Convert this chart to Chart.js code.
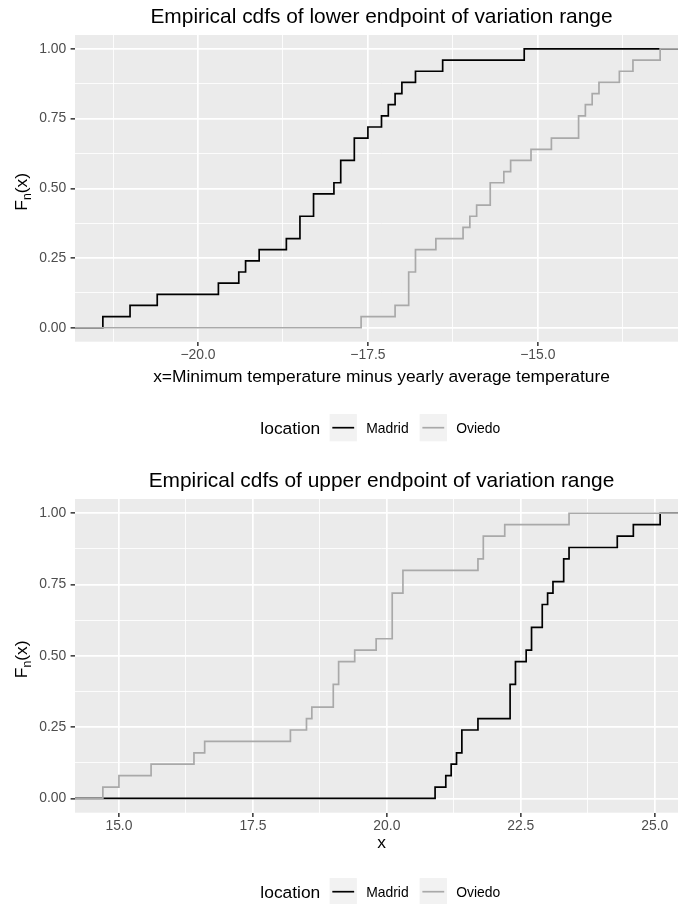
<!DOCTYPE html>
<html>
<head>
<meta charset="utf-8">
<title>Empirical cdfs of variation range endpoints</title>
<script src="https://cdn.jsdelivr.net/npm/chart.js@4.4.1/dist/chart.umd.min.js"></script>
<style>
  html, body { margin: 0; padding: 0; overflow: hidden; background: #ffffff; width: 678px; height: 904px; }
  .panel { position: absolute; left: 0; width: 700px; height: 452px; }
  .panel canvas { display: block; width: 700px; height: 452px; }
</style>
</head>
<body>
<div class="panel" style="top:0px"><canvas id="lowerChart" width="700" height="452"></canvas></div>
<div class="panel" style="top:452px"><canvas id="upperChart" width="700" height="452"></canvas></div>
<script>
// Locations and their line colours
const locations = ['Madrid', 'Oviedo'];
const locationColors = ['#000000', '#A9A9A9'];

// Lower endpoint: minimum temperature minus yearly average temperature
const lowerMadrid = [-21.4, -21.0, -20.6, -19.7, -19.4, -19.3, -19.1, -18.7, -18.5, -18.5, -18.3, -18.3, -18.0,
                     -17.9, -17.9, -17.7, -17.7, -17.5, -17.3, -17.2, -17.1, -17.0, -16.8, -16.4, -15.2];
const lowerOviedo = [-17.6, -17.1, -16.9, -16.9, -16.9, -16.8, -16.8, -16.5, -16.1, -16.0, -15.9, -15.7, -15.7,
                     -15.5, -15.4, -15.1, -14.8, -14.4, -14.4, -14.3, -14.2, -14.1, -13.8, -13.6, -13.2];

// Upper endpoint of the variation range
const upperMadrid = [20.9, 21.1, 21.2, 21.3, 21.4, 21.4, 21.7, 22.3, 22.3, 22.3, 22.4, 22.4, 22.6,
                     22.7, 22.7, 22.9, 22.9, 23.0, 23.1, 23.3, 23.3, 23.4, 24.3, 24.6, 25.1];
const upperOviedo = [14.7, 15.0, 15.6, 16.4, 16.6, 18.2, 18.5, 18.6, 19.0, 19.0, 19.1, 19.1, 19.4,
                     19.8, 20.1, 20.1, 20.1, 20.1, 20.3, 20.3, 21.7, 21.8, 21.8, 22.2, 23.4];

// Tick positions and labels
const yTickValues = [0, 0.25, 0.5, 0.75, 1];
const yTickLabels = ['0.00', '0.25', '0.50', '0.75', '1.00'];
const lowerTickValues = [-20, -17.5, -15];
const lowerTickLabels = ['\u221220.0', '\u221217.5', '\u221215.0'];
const upperTickValues = [15, 17.5, 20, 22.5, 25];
const upperTickLabels = ['15.0', '17.5', '20.0', '22.5', '25.0'];

const FAMILY = '"Liberation Sans", Arial, Helvetica, sans-serif';
const CANVAS_H = 452;
const SIZE_TITLE = 20.9, SIZE_AXIS = 17.4, SIZE_TICK = 13.9;

// Step points of an empirical cdf, padded out to the axis limits
function ecdfPoints(values, lo, hi) {
  const s = [...values].sort((a, b) => a - b);
  const n = s.length;
  const pts = [{ x: lo, y: 0 }];
  s.forEach((v, i) => pts.push({ x: v, y: (i + 1) / n }));
  pts.push({ x: hi, y: 1 });
  return pts;
}

// Majors plus minor breaks halfway between them, kept inside the range
function withMinor(major, lo, hi) {
  const step = major[1] - major[0];
  const out = major.slice();
  for (let i = -1; i < major.length; i++) {
    const m = major[0] + (i + 0.5) * step;
    if (m > lo && m < hi) out.push(m);
  }
  return out.sort((a, b) => a - b);
}

function majorIndex(v, major) {
  return major.findIndex(m => Math.abs(m - v) < 1e-9);
}

// Panel background, titles and legend
const decorPlugin = {
  id: 'decor',
  beforeDraw(chart, args, o) {
    const { ctx, chartArea: a } = chart;
    ctx.save();
    ctx.fillStyle = '#EBEBEB';
    ctx.fillRect(a.left, a.top, a.right - a.left, a.bottom - a.top);
    ctx.restore();
  },
  afterDraw(chart, args, o) {
    const { ctx, chartArea: a } = chart;
    const cx = (a.left + a.right) / 2;
    ctx.save();
    ctx.fillStyle = '#000000';
    ctx.textBaseline = 'alphabetic';

    // main title
    ctx.font = `${SIZE_TITLE}px ${FAMILY}`;
    ctx.textAlign = 'center';
    ctx.fillText(o.title, cx, o.titleBaseline);

    // x axis title
    ctx.font = `${SIZE_AXIS}px ${FAMILY}`;
    ctx.fillText(o.xTitle, cx, o.xTitleBaseline);

    // y axis title F_n(x), rotated
    const big = SIZE_AXIS, small = 12.2;
    ctx.save();
    ctx.translate(o.yTitleX, (a.top + a.bottom) / 2 + o.yTitleShift);
    ctx.rotate(-Math.PI / 2);
    ctx.textAlign = 'left';
    ctx.font = `${big}px ${FAMILY}`;
    const wF = ctx.measureText('F').width;
    const wP = ctx.measureText('(x)').width;
    ctx.font = `${small}px ${FAMILY}`;
    const wn = ctx.measureText('n').width;
    const x0 = -(wF + wn + wP) / 2;
    ctx.font = `${big}px ${FAMILY}`;
    ctx.fillText('F', x0, 0);
    ctx.font = `${small}px ${FAMILY}`;
    ctx.fillText('n', x0 + wF, 3.6);
    ctx.font = `${big}px ${FAMILY}`;
    ctx.fillText('(x)', x0 + wF + wn, 0);
    ctx.restore();

    // legend: title, then key + label for each location
    const keyW = 27.3, gapTitle = 9.3, gapKey = 9.3, gapItem = 11;
    ctx.textAlign = 'left';
    ctx.font = `${SIZE_AXIS}px ${FAMILY}`;
    const wTitle = ctx.measureText('location').width;
    ctx.font = `${SIZE_TICK}px ${FAMILY}`;
    const wLabels = locations.map(l => ctx.measureText(l).width);
    let total = wTitle + gapTitle;
    wLabels.forEach((w, i) => { total += keyW + gapKey + w + (i < wLabels.length - 1 ? gapItem : 0); });
    let lx = o.legendCenterX - total / 2;
    const ly = o.legendCenterY;
    ctx.font = `${SIZE_AXIS}px ${FAMILY}`;
    ctx.fillStyle = '#000000';
    ctx.fillText('location', lx, ly + 0.358 * SIZE_AXIS);
    lx += wTitle + gapTitle;
    locations.forEach((name, i) => {
      ctx.fillStyle = '#F2F2F2';
      ctx.fillRect(lx, ly - keyW / 2, keyW, keyW);
      ctx.strokeStyle = locationColors[i];
      ctx.lineWidth = 1.7;
      ctx.beginPath();
      ctx.moveTo(lx + keyW * 0.1, ly);
      ctx.lineTo(lx + keyW * 0.9, ly);
      ctx.stroke();
      lx += keyW + gapKey;
      ctx.fillStyle = '#000000';
      ctx.font = `${SIZE_TICK}px ${FAMILY}`;
      ctx.fillText(name, lx, ly + 0.358 * SIZE_TICK);
      lx += wLabels[i] + gapItem;
    });
    ctx.restore();
  }
};

function buildPanel(canvasId, cfg) {
  const all = cfg.series.flat();
  const lo = Math.min(...all), hi = Math.max(...all);
  const pad = 0.05 * (hi - lo);
  const xMin = lo - pad, xMax = hi + pad;
  const yMin = -0.05, yMax = 1.05;
  const xTicks = withMinor(cfg.xTickValues, xMin, xMax);
  const yTicks = withMinor(yTickValues, yMin, yMax);

  const datasets = locations.map((name, i) => ({
    label: name,
    data: ecdfPoints(cfg.series[i], xMin, xMax),
    borderColor: locationColors[i],
    backgroundColor: locationColors[i],
    borderWidth: 1.7,
    pointRadius: 0,
    pointHoverRadius: 0,
    stepped: 'before',
    fill: false,
    tension: 0,
    order: locations.length - 1 - i
  }));

  const gridFor = (major) => ({
    color: '#FFFFFF',
    lineWidth: c => (c.tick && majorIndex(c.tick.value, major) >= 0 ? 1.7 : 0.85),
    drawTicks: true,
    tickLength: 4.4,
    tickWidth: 1.5,
    tickColor: c => (c.tick && majorIndex(c.tick.value, major) >= 0 ? '#333333' : 'rgba(0,0,0,0)')
  });

  return new Chart(document.getElementById(canvasId), {
    type: 'line',
    data: { datasets },
    plugins: [decorPlugin],
    options: {
      responsive: false,
      maintainAspectRatio: false,
      devicePixelRatio: 1,
      animation: false,
      events: [],
      layout: { padding: { top: cfg.chartTop, left: 0, right: 12, bottom: 0 } },
      scales: {
        x: {
          type: 'linear',
          min: xMin,
          max: xMax,
          afterBuildTicks: s => { s.ticks = xTicks.map(v => ({ value: v })); },
          afterFit: s => { s.height = CANVAS_H - cfg.chartBottom; },
          ticks: {
            autoSkip: false, maxRotation: 0, minRotation: 0, padding: cfg.xTickPad,
            color: '#4D4D4D', font: { family: FAMILY, size: SIZE_TICK },
            callback: v => { const k = majorIndex(v, cfg.xTickValues); return k >= 0 ? cfg.xTickLabels[k] : ''; }
          },
          grid: gridFor(cfg.xTickValues),
          border: { display: false }
        },
        y: {
          type: 'linear',
          min: yMin,
          max: yMax,
          afterBuildTicks: s => { s.ticks = yTicks.map(v => ({ value: v })); },
          afterFit: s => { s.width = 75; },
          ticks: {
            autoSkip: false, padding: 4.4,
            color: '#4D4D4D', font: { family: FAMILY, size: SIZE_TICK },
            callback: v => { const k = majorIndex(v, yTickValues); return k >= 0 ? yTickLabels[k] : ''; }
          },
          grid: gridFor(yTickValues),
          border: { display: false }
        }
      },
      plugins: {
        legend: { display: false },
        title: { display: false },
        tooltip: { enabled: false },
        decor: {
          title: cfg.title,
          titleBaseline: cfg.titleBaseline,
          xTitle: cfg.xTitle,
          xTitleBaseline: cfg.xTitleBaseline,
          yTitleX: 27.3,
          yTitleShift: 3.5,
          legendCenterX: 380.3,
          legendCenterY: cfg.legendCenterY
        }
      }
    }
  });
}

buildPanel('lowerChart', {
  series: [lowerMadrid, lowerOviedo],
  xTickValues: lowerTickValues,
  xTickLabels: lowerTickLabels,
  title: 'Empirical cdfs of lower endpoint of variation range',
  xTitle: 'x=Minimum temperature minus yearly average temperature',
  chartTop: 35,
  chartBottom: 341.7,
  titleBaseline: 23.3,
  xTickPad: 0.8,
  xTitleBaseline: 381.5,
  legendCenterY: 427.7
});

buildPanel('upperChart', {
  series: [upperMadrid, upperOviedo],
  xTickValues: upperTickValues,
  xTickLabels: upperTickLabels,
  title: 'Empirical cdfs of upper endpoint of variation range',
  xTitle: 'x',
  chartTop: 47,
  chartBottom: 360.7,
  titleBaseline: 34.7,
  xTickPad: 0.8,
  xTitleBaseline: 396,
  legendCenterY: 439.7
});
</script>
</body>
</html>
